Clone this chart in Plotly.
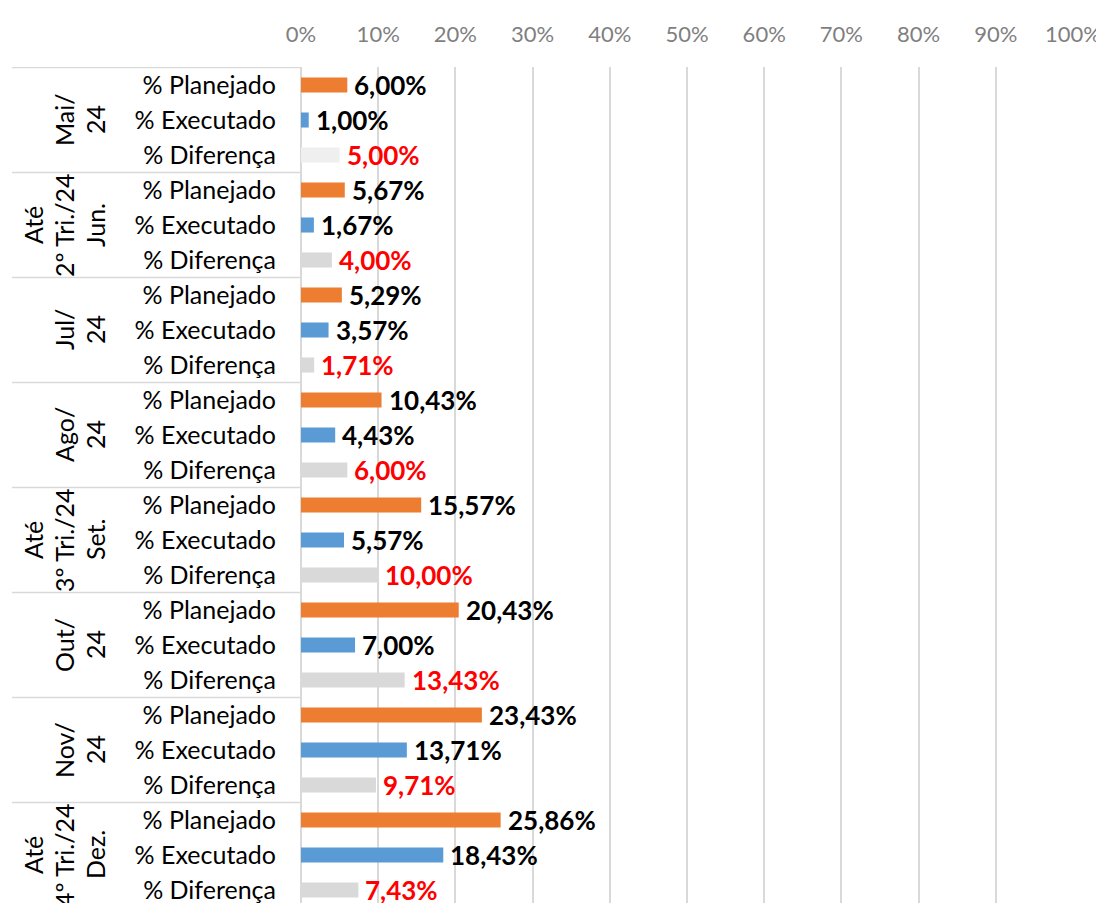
import plotly.graph_objects as go

# ---------------- data ----------------
group_labels = [
    ["Mai/", "24"],
    ["Até", "2º Tri./24", "Jun."],
    ["Jul/", "24"],
    ["Ago/", "24"],
    ["Até", "3º Tri./24", "Set."],
    ["Out/", "24"],
    ["Nov/", "24"],
    ["Até", "4º Tri./24", "Dez."],
]
series_names = ["% Planejado", "% Executado", "% Diferença"]
planejado = [6.00, 5.67, 5.29, 10.43, 15.57, 20.43, 23.43, 25.86]
executado = [1.00, 1.67, 3.57, 4.43, 5.57, 7.00, 13.71, 18.43]
diferenca = [5.00, 4.00, 1.71, 6.00, 10.00, 13.43, 9.71, 7.43]
x_ticks = list(range(0, 101, 10))
x_ticktext = [f"{v}%" for v in x_ticks]

# ---------------- styling ----------------
FONT = "Lato"
COL_PLAN = "#ED7D31"
COL_EXEC = "#5B9BD5"
COL_DIF = "#D9D9D9"
COL_DIF_FIRST = "#EFEFEF"
GRID = "#D9D9D9"

OFF = 8                      # page body margin of the browser
W, H = 1104 - OFF, 903 - OFF
L = 301 - OFF
T = 67 - OFF
R = W - (1073 - OFF)
plot_w = W - L - R
row_px = 35.0
first_row_center = 85.0 - OFF

n_groups = len(group_labels)
n_series = len(series_names)


def ypos(g, k):
    return g * n_series + k


def fmt(v):
    return f"{v:.2f}".replace(".", ",") + "%"


fig = go.Figure()
annotations = []

series = [
    (planejado, COL_PLAN, "black", 0),
    (executado, COL_EXEC, "black", 1),
    (diferenca, None, "#FF0000", 2),
]
for vals, col, tcol, k in series:
    ys = [ypos(g, k) for g in range(n_groups)]
    if col is None:
        colors = [COL_DIF_FIRST] + [COL_DIF] * (n_groups - 1)
    else:
        colors = col
    fig.add_trace(go.Bar(
        x=vals, y=ys, orientation="h", width=0.43,
        marker=dict(color=colors, line=dict(width=0)),
        name=series_names[k], showlegend=False, hoverinfo="skip",
    ))
    for v, yv in zip(vals, ys):
        annotations.append(dict(
            text=f"<b>{fmt(v)}</b>", x=v, y=yv, xref="x", yref="y",
            xanchor="left", yanchor="middle", xshift=5, showarrow=False,
            font=dict(family=FONT, size=26, color=tcol),
        ))

tickvals = [ypos(g, k) for g in range(n_groups) for k in range(n_series)]
ticktext = [series_names[k] for g in range(n_groups) for k in range(n_series)]

top_val = (T - first_row_center) / row_px
bot_val = (H - first_row_center) / row_px

# group separator lines
shapes = []
for g in range(n_groups + 1):
    yb = g * n_series - 0.5
    shapes.append(dict(type="line", xref="paper", yref="y",
                       x0=(12 - OFF - L) / plot_w, x1=0, y0=yb, y1=yb,
                       line=dict(color=GRID, width=1.5), layer="above"))

# group labels (rotated, one annotation per line, stacked from the right)
for g, lines in enumerate(group_labels):
    yc = ypos(g, 1)
    n = len(lines)
    for i, txt in enumerate(lines):
        px = 95 - OFF - 31 * (n - 1 - i)
        annotations.append(dict(
            text=txt, x=(px - L) / plot_w, xref="paper", y=yc, yref="y",
            xanchor="center", yanchor="middle", textangle=-90,
            showarrow=False, font=dict(family=FONT, size=25, color="black"),
        ))

fig.update_layout(
    width=W, height=H,
    margin=dict(l=L, r=R, t=T, b=0, autoexpand=False),
    paper_bgcolor="white", plot_bgcolor="white",
    barmode="overlay",
    shapes=shapes, annotations=annotations,
    font=dict(family=FONT),
)
fig.update_xaxes(
    side="top", range=[0, 100], tickmode="array",
    tickvals=x_ticks, ticktext=x_ticktext,
    showgrid=True, gridcolor=GRID, gridwidth=1.5,
    zeroline=True, zerolinecolor=GRID, zerolinewidth=1.5,
    showline=False, ticks="", ticklabelstandoff=20,
    tickfont=dict(family=FONT, size=22, color="#7F7F7F"),
    fixedrange=True,
)
fig.update_yaxes(
    range=[bot_val, top_val], tickmode="array",
    tickvals=tickvals, ticktext=ticktext,
    showgrid=False, zeroline=False, showline=False, ticks="",
    ticklabelstandoff=24, ticklabeloverflow="allow",
    tickfont=dict(family=FONT, size=25, color="black"),
    fixedrange=True,
)

fig.write_html("out.html")
